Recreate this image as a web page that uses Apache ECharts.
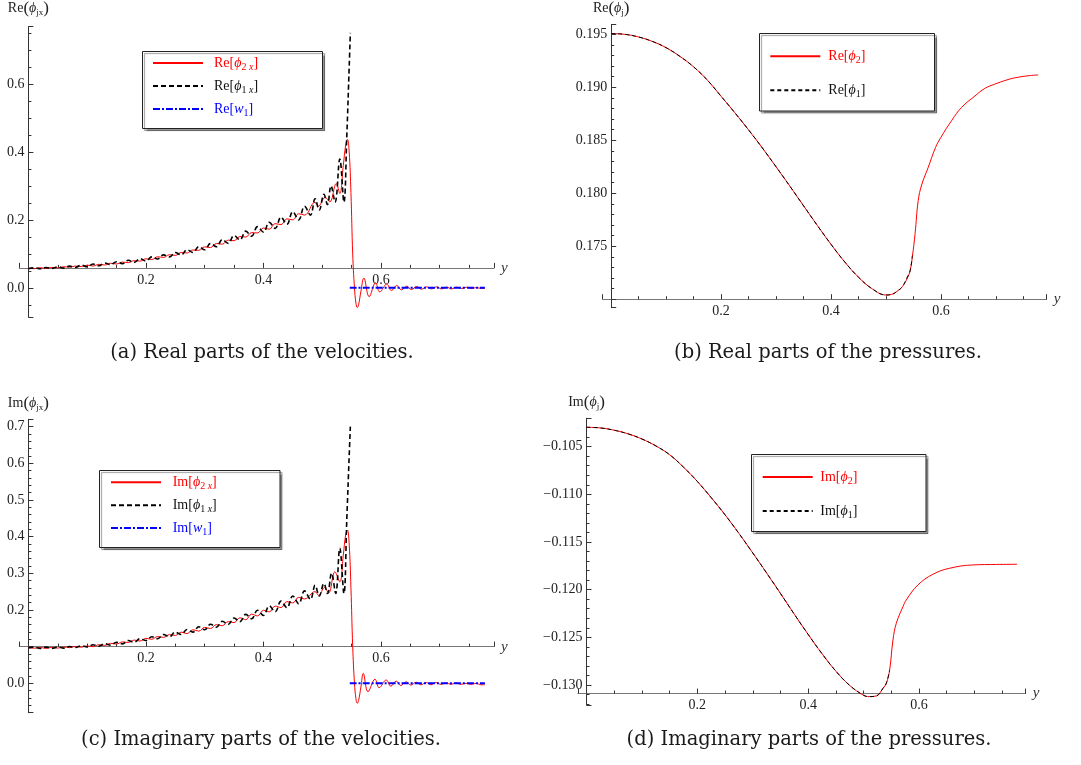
<!DOCTYPE html>
<html><head><meta charset="utf-8">
<script src="https://cdn.jsdelivr.net/npm/echarts@6/dist/echarts.min.js"></script>
<style>html,body{margin:0;padding:0;background:#fff}#c{width:1081px;height:765px}</style>
</head><body><div id="c"></div>
<script>
// ---------------- DATA (x = y-coordinate, value) ----------------
const reVel_phi2x = [[0.00,0.0582],[0.01,0.0563],[0.02,0.0592],[0.03,0.0573],[0.04,0.0602],[0.05,0.0588],[0.06,0.0622],[0.07,0.0608],[0.08,0.0642],[0.09,0.0628],[0.10,0.0668],[0.11,0.0642],[0.12,0.0693],[0.13,0.0672],[0.14,0.0723],[0.15,0.0702],[0.16,0.0758],[0.17,0.0742],[0.18,0.0798],[0.19,0.0787],[0.20,0.0855],[0.21,0.0835],[0.22,0.0915],[0.23,0.0895],[0.24,0.0975],[0.25,0.0955],[0.26,0.104],[0.27,0.1025],[0.28,0.1115],[0.29,0.1105],[0.30,0.1205],[0.31,0.1185],[0.32,0.1305],[0.33,0.1285],[0.34,0.1405],[0.35,0.1385],[0.36,0.151],[0.37,0.1495],[0.38,0.1625],[0.39,0.1615],[0.40,0.176],[0.41,0.1725],[0.42,0.189],[0.43,0.186],[0.44,0.203],[0.45,0.200],[0.46,0.218],[0.47,0.214],[0.4877,0.2517],[0.4934,0.240],[0.505,0.266],[0.513,0.253],[0.524,0.307],[0.530,0.278],[0.536,0.36],[0.540,0.42],[0.543,0.437],[0.546,0.40],[0.549,0.28],[0.552,0.10],[0.555,0.0],[0.5575,-0.045],[0.5597,-0.058],[0.562,-0.05],[0.566,-0.01],[0.571,0.029],[0.580,-0.026],[0.591,0.015],[0.598,-0.012],[0.610,0.011],[0.618,-0.008],[0.627,0.007],[0.635,-0.006],[0.644,0.005],[0.652,-0.005],[0.661,0.004],[0.669,-0.004],[0.678,0.003],[0.686,-0.003],[0.695,0.003],[0.703,-0.003],[0.712,0.002],[0.720,-0.003],[0.729,0.002],[0.737,-0.002],[0.746,0.002],[0.754,-0.002],[0.763,0.001],[0.771,-0.002],[0.777,-0.001]];
const reVel_phi1x = [[0.00,0.056],[0.01,0.059],[0.02,0.056],[0.03,0.060],[0.04,0.057],[0.05,0.062],[0.06,0.058],[0.07,0.064],[0.08,0.060],[0.09,0.067],[0.10,0.062],[0.11,0.070],[0.12,0.065],[0.13,0.073],[0.14,0.068],[0.15,0.077],[0.16,0.071],[0.17,0.081],[0.18,0.075],[0.19,0.086],[0.20,0.079],[0.21,0.091],[0.22,0.085],[0.23,0.097],[0.24,0.091],[0.25,0.104],[0.26,0.097],[0.27,0.112],[0.28,0.104],[0.29,0.121],[0.30,0.112],[0.31,0.131],[0.32,0.121],[0.33,0.142],[0.34,0.131],[0.35,0.154],[0.36,0.141],[0.37,0.167],[0.38,0.152],[0.39,0.180],[0.40,0.164],[0.41,0.193],[0.42,0.175],[0.43,0.208],[0.44,0.187],[0.45,0.224],[0.46,0.200],[0.47,0.240],[0.48,0.214],[0.488,0.262],[0.495,0.229],[0.503,0.275],[0.509,0.245],[0.515,0.30],[0.522,0.252],[0.530,0.379],[0.537,0.252],[0.542,0.45],[0.546,0.65],[0.548,0.75]];
const reVel_w1 = [[0.547,0.0],[0.777,0.0]];

const rePres_phi2 = [[0,0.19508],[0.025,0.19500],[0.05,0.19475],[0.075,0.19433],[0.1,0.19374],[0.125,0.19292],[0.15,0.19193],[0.175,0.19068],[0.2,0.18915],[0.225,0.18760],[0.25,0.18598],[0.275,0.18428],[0.3,0.18250],[0.325,0.18068],[0.35,0.17882],[0.375,0.17697],[0.4,0.17518],[0.425,0.17352],[0.45,0.17208],[0.475,0.17098],[0.5,0.17040],[0.51,0.17045],[0.522,0.17082],[0.53,0.1712],[0.539,0.1720],[0.544,0.1727],[0.548,0.1740],[0.553,0.1762],[0.5587,0.17932],[0.565,0.1808],[0.577,0.18246],[0.59,0.1843],[0.6,0.18528],[0.62,0.1869],[0.6375,0.1881],[0.662,0.18919],[0.68,0.1899],[0.698,0.1903],[0.72,0.1907],[0.735,0.1909],[0.76,0.1911],[0.777,0.19117]];
const rePres_phi1 = [[0,0.19508],[0.025,0.19500],[0.05,0.19475],[0.075,0.19433],[0.1,0.19374],[0.125,0.19292],[0.15,0.19193],[0.175,0.19068],[0.2,0.18915],[0.225,0.18760],[0.25,0.18598],[0.275,0.18428],[0.3,0.18250],[0.325,0.18068],[0.35,0.17882],[0.375,0.17697],[0.4,0.17518],[0.425,0.17352],[0.45,0.17208],[0.475,0.17098],[0.5,0.17040],[0.51,0.17045],[0.522,0.17082],[0.53,0.1712],[0.539,0.1721],[0.544,0.1727],[0.548,0.1741]];

const imVel_phi2x = [[0.00,0.0975],[0.01,0.0958],[0.02,0.0976],[0.03,0.0954],[0.04,0.0980],[0.05,0.0960],[0.06,0.0990],[0.07,0.0973],[0.08,0.1004],[0.09,0.0984],[0.10,0.1018],[0.11,0.0999],[0.12,0.1052],[0.13,0.1034],[0.14,0.1088],[0.15,0.1072],[0.16,0.1128],[0.17,0.1114],[0.18,0.1179],[0.19,0.1152],[0.20,0.1225],[0.21,0.1200],[0.22,0.1275],[0.23,0.1251],[0.24,0.1327],[0.25,0.1305],[0.26,0.1395],[0.27,0.1355],[0.28,0.1460],[0.29,0.1422],[0.30,0.1525],[0.31,0.1493],[0.32,0.1601],[0.33,0.1570],[0.34,0.1682],[0.35,0.1655],[0.36,0.1787],[0.37,0.1735],[0.38,0.1885],[0.39,0.1837],[0.40,0.1990],[0.41,0.1948],[0.42,0.2106],[0.43,0.2065],[0.44,0.2227],[0.45,0.2190],[0.46,0.2345],[0.47,0.2300],[0.4877,0.250],[0.494,0.240],[0.504,0.261],[0.511,0.246],[0.5216,0.304],[0.530,0.277],[0.536,0.35],[0.540,0.405],[0.543,0.418],[0.546,0.38],[0.549,0.26],[0.552,0.10],[0.555,0.0],[0.5575,-0.042],[0.5597,-0.0545],[0.562,-0.047],[0.566,-0.01],[0.570,0.027],[0.578,-0.023],[0.590,0.011],[0.597,-0.012],[0.609,0.009],[0.617,-0.008],[0.626,0.006],[0.634,-0.006],[0.643,0.004],[0.651,-0.005],[0.660,0.003],[0.668,-0.004],[0.677,0.002],[0.685,-0.004],[0.694,0.002],[0.702,-0.003],[0.711,0.001],[0.719,-0.003],[0.728,0.001],[0.736,-0.003],[0.745,0.0],[0.753,-0.003],[0.762,0.0],[0.770,-0.004],[0.777,-0.004]];
const imVel_phi1x = [[0.00,0.096],[0.01,0.0985],[0.02,0.0950],[0.03,0.0985],[0.04,0.0952],[0.05,0.0990],[0.06,0.0960],[0.07,0.1005],[0.08,0.0975],[0.09,0.1025],[0.10,0.0990],[0.11,0.1050],[0.12,0.1010],[0.13,0.1080],[0.14,0.1040],[0.15,0.1120],[0.16,0.1075],[0.17,0.1165],[0.18,0.1120],[0.19,0.1215],[0.20,0.1165],[0.21,0.1270],[0.22,0.1215],[0.23,0.1330],[0.24,0.1270],[0.25,0.1395],[0.26,0.1330],[0.27,0.1465],[0.28,0.1395],[0.29,0.1540],[0.30,0.1460],[0.31,0.1610],[0.32,0.1530],[0.33,0.1690],[0.34,0.1605],[0.35,0.1780],[0.36,0.1680],[0.37,0.1880],[0.38,0.1760],[0.39,0.1990],[0.40,0.1850],[0.41,0.2110],[0.42,0.1950],[0.43,0.2240],[0.44,0.2060],[0.45,0.2380],[0.46,0.2170],[0.47,0.2520],[0.48,0.2290],[0.488,0.267],[0.495,0.238],[0.503,0.272],[0.509,0.245],[0.516,0.300],[0.523,0.245],[0.530,0.368],[0.537,0.245],[0.542,0.45],[0.546,0.62],[0.548,0.70]];
const imVel_w1 = [[0.547,0.0],[0.777,0.0]];

const imPres_phi2 = [[0,-0.10297],[0.025,-0.10304],[0.05,-0.10328],[0.075,-0.10366],[0.1,-0.10420],[0.125,-0.10492],[0.15,-0.10585],[0.175,-0.10715],[0.2,-0.10865],[0.225,-0.11035],[0.25,-0.11215],[0.275,-0.11410],[0.3,-0.11615],[0.325,-0.11825],[0.35,-0.12040],[0.375,-0.12258],[0.4,-0.12470],[0.425,-0.12672],[0.45,-0.12855],[0.475,-0.13005],[0.5,-0.13108],[0.51,-0.13122],[0.523,-0.13115],[0.535,-0.13035],[0.541,-0.12982],[0.547,-0.12843],[0.553,-0.12528],[0.559,-0.12353],[0.571,-0.12179],[0.577,-0.12108],[0.598,-0.11951],[0.625,-0.11839],[0.655,-0.11776],[0.697,-0.11741],[0.74,-0.11736],[0.777,-0.11734]];
const imPres_phi1 = [[0,-0.10297],[0.025,-0.10304],[0.05,-0.10328],[0.075,-0.10366],[0.1,-0.10420],[0.125,-0.10492],[0.15,-0.10585],[0.175,-0.10715],[0.2,-0.10865],[0.225,-0.11035],[0.25,-0.11215],[0.275,-0.11410],[0.3,-0.11615],[0.325,-0.11825],[0.35,-0.12040],[0.375,-0.12258],[0.4,-0.12470],[0.425,-0.12672],[0.45,-0.12855],[0.475,-0.13005],[0.5,-0.13108],[0.51,-0.13122],[0.523,-0.13115],[0.535,-0.13035],[0.541,-0.12982],[0.547,-0.12843]];

const captions = ['(a) Real parts of the velocities.','(b) Real parts of the pressures.','(c) Imaginary parts of the velocities.','(d) Imaginary parts of the pressures.'];

// axis ranges (plot range and where the horizontal axis crosses)
const X_MIN = -0.0155, X_MAX = 0.7925;
const rangeA = {min:-0.0866, max:0.7688, origin:0.058};
const rangeB = {min:0.1692, max:0.19593, origin:0.1700};
const rangeC = {min:-0.0802, max:0.7199, origin:0.1};
const rangeD = {min:-0.1321, max:-0.10203, origin:-0.1309};

// ---------------- STYLE / LAYOUT ----------------
const F = 'Liberation Serif';
const RED = '#ff0000', BLK = '#000000', BLU = '#0000ff';
function tk(extra){ return Object.assign({fontFamily:F, fontSize:14, color:'#222', lineHeight:18}, extra); }
function richFor(gap){
  const r = {g:{width:gap, fontSize:14, lineHeight:18}};
  [['r',RED],['k','#111'],['b',BLU]].forEach(([p,c])=>{
    r[p+'n'] = tk({color:c});
    r[p+'i'] = tk({color:c, fontStyle:'italic'});
    r[p+'s'] = tk({color:c, fontSize:10, lineHeight:11, verticalAlign:'bottom'});
    r[p+'si'] = tk({color:c, fontSize:10, lineHeight:11, verticalAlign:'bottom', fontStyle:'italic'});
  });
  return r;
}
const LBL = {
  'Re[ϕ2x]':'{g| }{rn|Re[}{ri|ϕ}{rs|2}{rsi| x}{rn|]}',
  'Re[ϕ1x]':'{g| }{kn|Re[}{ki|ϕ}{ks|1}{ksi| x}{kn|]}',
  'Re[w1]':'{g| }{bn|Re[}{bi|w}{bs|1}{bn|]}',
  'Re[ϕ2]':'{g| }{rn|Re[}{ri|ϕ}{rs|2}{rn|]}',
  'Re[ϕ1]':'{g| }{kn|Re[}{ki|ϕ}{ks|1}{kn|]}',
  'Im[ϕ2x]':'{g| }{rn|Im[}{ri|ϕ}{rs|2}{rsi| x}{rn|]}',
  'Im[ϕ1x]':'{g| }{kn|Im[}{ki|ϕ}{ks|1}{ksi| x}{kn|]}',
  'Im[w1]':'{g| }{bn|Im[}{bi|w}{bs|1}{bn|]}',
  'Im[ϕ2]':'{g| }{rn|Im[}{ri|ϕ}{rs|2}{rn|]}',
  'Im[ϕ1]':'{g| }{kn|Im[}{ki|ϕ}{ks|1}{kn|]}'
};
const nameRich = { p: tk({}), q: tk({fontSize:17}), i: tk({fontStyle:'italic'}), s: tk({fontSize:9, lineHeight:10, verticalAlign:'bottom'}) };

function isMult(v, step){ const k=v/step; return Math.abs(k-Math.round(k))<1e-6; }
const fmtX = v => (v>0.1 && isMult(v,0.2)) ? v.toFixed(1) : '';
const fmtYa = v => isMult(v,0.2) ? v.toFixed(1) : '';
const fmtYb = v => (isMult(v,0.005) && Math.abs(v-0.17)>1e-6) ? v.toFixed(3) : '';
const fmtYc = v => (isMult(v,0.1) && Math.abs(v-0.1)>1e-6) ? v.toFixed(1) : '';
const fmtYd = v => isMult(v,0.005) ? '\u2212' + Math.abs(v).toFixed(3) : '';

// panel frames in pixels: left end of x axis, right end, top, bottom
const panels = [
  {xs:19.3, xe:494, top:25, bottom:317.3, r:rangeA},
  {xs:602.7, xe:1046.7, top:23.3, bottom:307.7, r:rangeB},
  {xs:19.3, xe:494, top:419.3, bottom:712.7, r:rangeC},
  {xs:577.9, xe:1025.7, top:418.3, bottom:705, r:rangeD}
];
const grids = [], xAxes = [], yAxes = [];
const tickStyle = {color:'#333', width:1};
const yFmt = [fmtYa, fmtYb, fmtYc, fmtYd];
const ySplit = [4,5,8,5], yMinor = [4,5,5,5];
const yNames = ['{p|Re}{q|(}{i|ϕ}{s|jx}{q|)}','{p|Re}{q|(}{i|ϕ}{s|j}{q|)}','{p|Im}{q|(}{i|ϕ}{s|jx}{q|)}','{p|Im}{q|(}{i|ϕ}{s|j}{q|)}'];
panels.forEach((p,k)=>{
  const w = p.xe - p.xs, h = p.bottom - p.top;
  const x0 = p.xs + w * (0 - X_MIN) / (X_MAX - X_MIN);       // pixel of y=0
  const axisY = p.top + h * (p.r.max - p.r.origin) / (p.r.max - p.r.min); // pixel of horizontal axis
  grids.push({left:x0, top:p.top, width:p.xe - x0, height:h});
  grids.push({left:p.xs, top:p.top, width:w, height:axisY - p.top});
  xAxes.push({type:'value', gridIndex:2*k, min:0, max:X_MAX, show:false, splitLine:{show:false}});
  xAxes.push({type:'value', gridIndex:2*k+1, min:X_MIN, max:X_MAX, splitNumber:4, position:'bottom',
    axisLine:{show:true, onZero:false, lineStyle:{color:'#777', width:1}},
    axisTick:{show:true, inside:true, length:5, lineStyle:tickStyle},
    minorTick:{show:true, splitNumber:4, length:3, lineStyle:tickStyle},
    splitLine:{show:false}, minorSplitLine:{show:false},
    axisLabel:{margin:5, fontFamily:F, fontSize:14, color:'#222', formatter:fmtX},
    name:'y', nameLocation:'end', nameGap:7,
    nameTextStyle:{fontFamily:F, fontStyle:'italic', fontSize:15, color:'#333'}});
  yAxes.push({type:'value', gridIndex:2*k, min:p.r.min, max:p.r.max, splitNumber:ySplit[k], position:'left',
    axisLine:{show:true, onZero:false, lineStyle:{color:'#333', width:1}},
    axisTick:{show:true, inside:true, length:5, lineStyle:tickStyle},
    minorTick:{show:true, splitNumber:yMinor[k], length:3, lineStyle:tickStyle},
    splitLine:{show:false}, minorSplitLine:{show:false},
    axisLabel:{margin:4, fontFamily:F, fontSize:14, color:'#222', formatter:yFmt[k]},
    name:yNames[k], nameLocation:'end', nameGap:k===0?9:7,
    nameTextStyle:{fontFamily:F, fontSize:14, color:'#222', rich:nameRich}});
  yAxes.push({type:'value', gridIndex:2*k+1, min:0, max:1, show:false, splitLine:{show:false}});
});

function line(name, k, data, color, width, type, z){
  return { name:name, type:'line', xAxisIndex:2*k, yAxisIndex:2*k, data:data, symbol:'none',
    smooth:0.4, z:z, silent:true,
    lineStyle:{color:color, width:width, type:type}, itemStyle:{color:color} };
}
function legendCfg(names, left, top, gap, spacer){
  return { data:names, orient:'vertical', left:left, top:top, itemWidth:50, itemHeight:14,
    itemGap:gap, padding:0, selectedMode:false, z:6,
    itemStyle:{opacity:0, borderWidth:0},
    formatter: n => LBL[n], textStyle:{fontFamily:F, fontSize:14, rich:richFor(spacer)} };
}
function box(x,y,w,h){
  return { type:'rect', z:5, shape:{x:x, y:y, width:w, height:h},
    style:{fill:'#fff', stroke:'#222', lineWidth:1, shadowColor:'rgba(0,0,0,0.4)', shadowOffsetX:2, shadowOffsetY:2, shadowBlur:1} };
}
function cap(text, x, y){
  return { type:'text', z:5, x:x, y:y, style:{text:text, fontFamily:'DejaVu Serif', fontSize:19.5, fill:'#1a1a1a', align:'center', verticalAlign:'middle'} };
}

const option = {
  animation:false,
  backgroundColor:'#fff',
  grid:grids, xAxis:xAxes, yAxis:yAxes,
  legend:[
    legendCfg(['Re[ϕ2x]','Re[ϕ1x]','Re[w1]'], 152, 56, 7, 6),
    legendCfg(['Re[ϕ2]','Re[ϕ1]'], 769.3, 49.3, 18, 3),
    legendCfg(['Im[ϕ2x]','Im[ϕ1x]','Im[w1]'], 110, 475.3, 6.85, 6.7),
    legendCfg(['Im[ϕ2]','Im[ϕ1]'], 761.7, 470, 18, 2.6)
  ],
  graphic:[
    box(142.5, 51.5, 180, 77),
    box(759.5, 33.5, 175, 77.5),
    box(99.5, 470.5, 180.5, 77),
    box(751.5, 454.5, 174.5, 77),
    cap(captions[0], 262, 353),
    cap(captions[1], 828, 353),
    cap(captions[2], 261, 740),
    cap(captions[3], 809, 740)
  ],
  series:[
    line('Re[ϕ2x]', 0, reVel_phi2x, RED, 1, 'solid', 2),
    line('Re[ϕ1x]', 0, reVel_phi1x, BLK, 1.6, [5,3], 3),
    line('Re[w1]', 0, reVel_w1, BLU, 2, [7,2,2,2], 4),
    line('Re[ϕ2]', 1, rePres_phi2, RED, 1, 'solid', 2),
    line('Re[ϕ1]', 1, rePres_phi1, BLK, 1, [4,3], 3),
    line('Im[ϕ2x]', 2, imVel_phi2x, RED, 1, 'solid', 2),
    line('Im[ϕ1x]', 2, imVel_phi1x, BLK, 1.6, [5,3], 3),
    line('Im[w1]', 2, imVel_w1, BLU, 2, [7,2,2,2], 4),
    line('Im[ϕ2]', 3, imPres_phi2, RED, 1, 'solid', 2),
    line('Im[ϕ1]', 3, imPres_phi1, BLK, 1, [4,3], 3)
  ]
};
const chart = echarts.init(document.getElementById('c'), null, {renderer:'canvas'});
chart.setOption(option);
</script></body></html>
